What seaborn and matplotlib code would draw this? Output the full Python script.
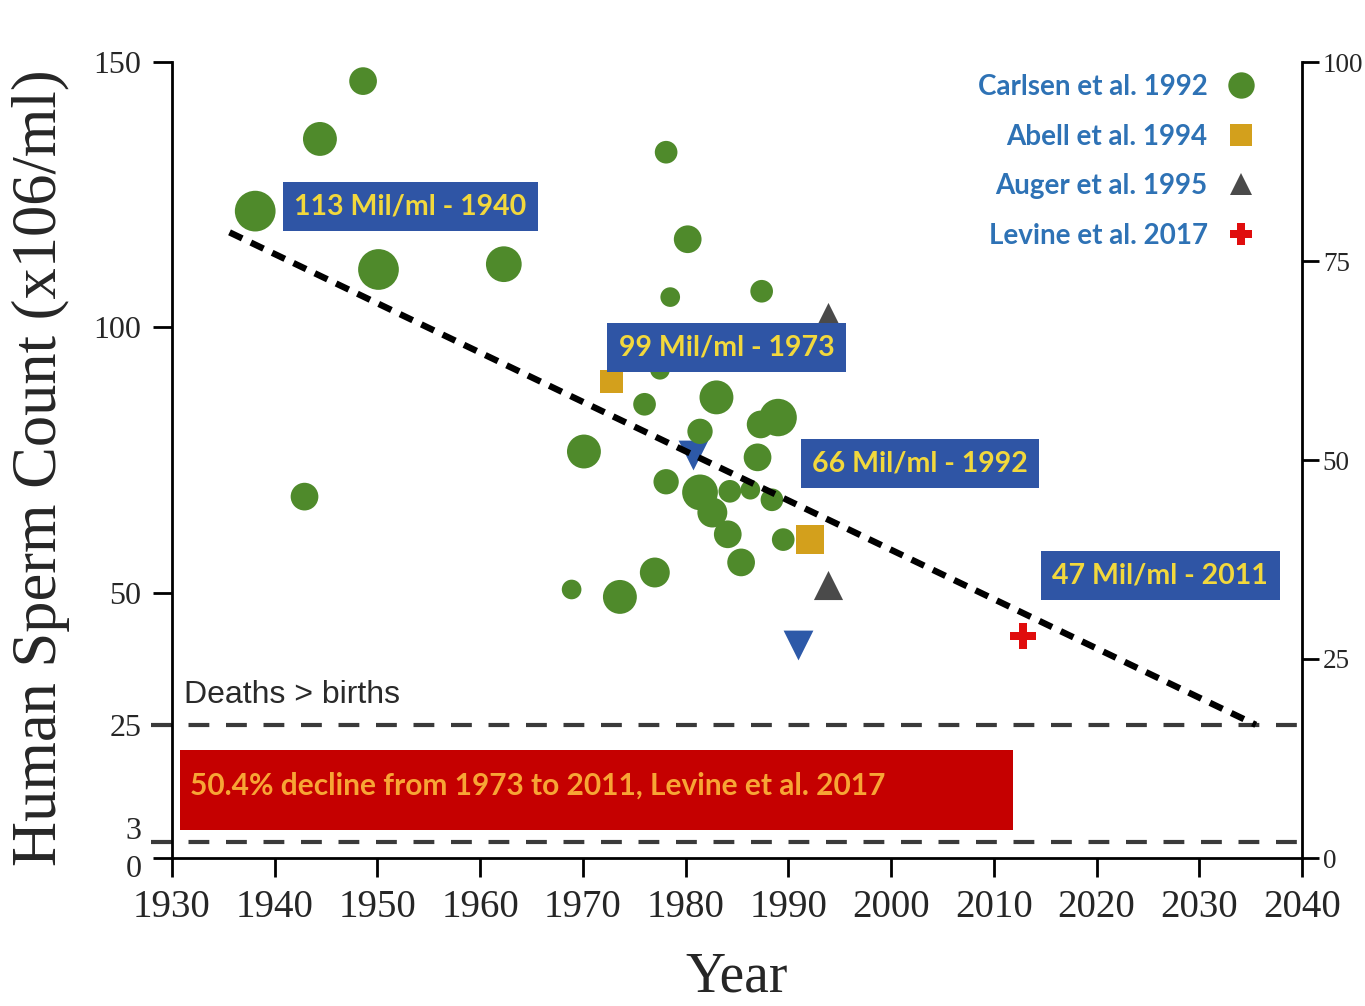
import numpy as np
import pandas as pd
import matplotlib
matplotlib.use("Agg")
import matplotlib.pyplot as plt
import seaborn as sns
from matplotlib.lines import Line2D
from matplotlib.patches import Rectangle
from matplotlib.transforms import ScaledTranslation

# ---------------- data ----------------
carlsen_year = [1938.1, 1944.4, 1948.6, 1950.1, 1942.9, 1962.3, 1978.1, 1980.2,
                1978.5, 1987.4, 1977.5, 1976.0, 1983.0, 1970.1, 1981.4, 1987.3,
                1989.0, 1987.0, 1978.1, 1981.4, 1982.6, 1984.1, 1984.3, 1986.3,
                1988.4, 1989.5, 1985.4, 1977.0, 1973.6, 1968.9]
carlsen_count = [121.9, 135.5, 146.4, 110.9, 68.1, 111.9, 133.0, 116.6,
                 105.7, 106.8, 92.0, 85.5, 86.8, 76.6, 80.4, 81.7,
                 83.0, 75.5, 70.9, 68.9, 65.1, 61.0, 69.1, 69.4,
                 67.5, 60.0, 55.7, 53.8, 49.2, 50.6]
carlsen_rel_n = [20, 16, 13, 20, 13, 17, 11, 13,
                 10, 11, 10, 11, 16, 16, 12, 13,
                 18, 13, 12, 17, 14, 13, 11, 10,
                 11, 11, 13, 14, 16, 10]
abell_year = [1972.8, 1992.1]
abell_count = [89.8, 60.0]
auger_year = [1993.9, 1993.9]
auger_count = [101.9, 51.5]
other_year = [1980.7, 1990.9]
other_count = [76.0, 40.2]
levine_year = [2012.8]
levine_count = [41.9]
trend_year = [1935.6, 2035.5]
trend_count = [117.9, 25.1]
threshold_levels = [25, 3]

left_ticks = [0, 3, 25, 50, 100, 150]
right_ticks = [0, 25, 50, 75, 100]
x_ticks = list(range(1930, 2041, 10))

callout_labels = ["113 Mil/ml - 1940", "99 Mil/ml - 1973",
                  "66 Mil/ml - 1992", "47 Mil/ml - 2011"]
callout_x = [1953.2, 1984.0, 2002.8, 2026.2]
callout_y = [122.8, 96.2, 74.3, 53.2]

legend_labels = ["Carlsen et al. 1992", "Abell et al. 1994",
                 "Auger et al. 1995", "Levine et al. 2017"]

decline_text = "50.4% decline from 1973 to 2011, Levine et al. 2017"
deaths_text = "Deaths > births"

# ---------------- style ----------------
sns.set_theme(style="white")
plt.rcParams["font.family"] = ["Liberation Serif", "DejaVu Serif"]

GREEN = "#4F8A2B"
GOLD = "#D3A01C"
GRAY = "#4A4A4A"
RED = "#E00D0D"
BLUE_TRI = "#2D59A8"
BOX_BLUE = "#2F55A5"
BOX_TEXT = "#F2D83C"
LEG_TEXT = "#2E72B5"
SANS = ["Lato", "DejaVu Sans"]

fig = plt.figure(figsize=(13.65, 10.06), dpi=100)
ax = fig.add_axes([172 / 1365, 148 / 1006, 1130 / 1365, 796 / 1006])

# ---------------- marks ----------------
df_c = pd.DataFrame({"year": carlsen_year, "count": carlsen_count, "n": carlsen_rel_n})
sns.scatterplot(data=df_c, x="year", y="count", size="n", sizes=(200, 860),
                size_norm=(10, 20), color=GREEN, linewidth=0, legend=False,
                ax=ax, zorder=3)

sns.scatterplot(x=abell_year, y=abell_count, marker="s", s=[270, 420],
                color=GOLD, linewidth=0, ax=ax, zorder=3)
sns.scatterplot(x=auger_year, y=auger_count, marker="^", s=440,
                color=GRAY, linewidth=0, ax=ax, zorder=3)
sns.scatterplot(x=other_year, y=other_count, marker="v", s=460,
                color=BLUE_TRI, linewidth=0, ax=ax, zorder=2.5)
sns.scatterplot(x=levine_year, y=levine_count, marker="P", s=340,
                color=RED, linewidth=0, ax=ax, zorder=3)

sns.lineplot(x=trend_year, y=trend_count, ax=ax, color="black", lw=4.6,
             zorder=4)
ax.lines[-1].set_dashes((2.2, 1.5))

for lvl in threshold_levels:
    ax.hlines(lvl, x_ticks[0] - 2, x_ticks[-1], colors="#3A3A3A", lw=3,
              linestyles=(0, (5, 4)), clip_on=False, zorder=2)

# red decline box
ax.add_patch(Rectangle((1930.8, 5.3), 2011.9 - 1930.8, 20.4 - 5.3,
                       facecolor="#C50000", edgecolor="none", zorder=2))
ax.text(1931.8, 13.6, decline_text, family=SANS, fontsize=21.5, color="#F7A535",
        fontweight="bold", va="center", ha="left", zorder=5)

ax.text(1931.2, 30.8, deaths_text, family=["Liberation Sans", "DejaVu Sans"],
        fontsize=23, color="#2A2A2A", va="center", ha="left")

for lab, cx, cy in zip(callout_labels, callout_x, callout_y):
    ax.text(cx, cy, lab, family=SANS, fontsize=20.5, color=BOX_TEXT,
            fontweight="bold", ha="center", va="center", zorder=6,
            bbox=dict(boxstyle="square,pad=0.4", facecolor=BOX_BLUE,
                      edgecolor="none"))

# ---------------- axes ----------------
ax.set_xlim(x_ticks[0], x_ticks[-1])
ax.set_ylim(0, 150)
ax.set_xticks(x_ticks)
ax.set_yticks(left_ticks)
ax.tick_params(axis="both", direction="out", length=14, width=2, color="black",
               left=True, bottom=True)
ax.tick_params(axis="x", labelsize=28, pad=8)
ax.tick_params(axis="y", labelsize=23, pad=8)
for s in ["top", "right"]:
    ax.spines[s].set_visible(False)
for s in ["left", "bottom"]:
    ax.spines[s].set_color("black")
    ax.spines[s].set_linewidth(2)

ax.set_xlabel("Year", fontsize=40)
ax.xaxis.set_label_coords(0.5, -0.117)
ax.set_ylabel("Human Sperm Count (x106/ml)", fontsize=45)
ax.yaxis.set_label_coords(-0.09, 0.49)

# nudge the crowded "3" and "0" labels apart, as in the reference
offsets = {0: -6 / 72, 3: 10 / 72}
for tick, loc in zip(ax.yaxis.get_major_ticks(), left_ticks):
    if loc in offsets:
        tick.label1.set_transform(tick.label1.get_transform() +
                                  ScaledTranslation(0, offsets[loc], fig.dpi_scale_trans))

ax2 = ax.twinx()
ax2.set_ylim(0, 100)
ax2.set_yticks(right_ticks)
ax2.tick_params(axis="y", direction="out", length=12, width=2, labelsize=19.5,
                pad=3, right=True, color="black")
for s in ["top", "left", "bottom"]:
    ax2.spines[s].set_visible(False)
ax2.spines["right"].set_color("black")
ax2.spines["right"].set_linewidth(2)
ax2.grid(False)

# legend
handles = [
    Line2D([], [], marker="o", ls="", color=GREEN, markersize=19, markeredgewidth=0),
    Line2D([], [], marker="s", ls="", color=GOLD, markersize=16, markeredgewidth=0),
    Line2D([], [], marker="^", ls="", color=GRAY, markersize=16, markeredgewidth=0),
    Line2D([], [], marker="P", ls="", color=RED, markersize=16, markeredgewidth=0),
]
leg = ax2.legend(handles, legend_labels, loc="upper right", markerfirst=False,
                 frameon=False, bbox_to_anchor=(1255 / 1365, 1 - 74 / 1006),
                 bbox_transform=fig.transFigure, borderaxespad=0, borderpad=0,
                 handletextpad=0.7, labelspacing=0.85, handlelength=1.0,
                 prop={"family": SANS, "size": 20, "weight": "bold"})
for t in leg.get_texts():
    t.set_color(LEG_TEXT)

fig.savefig("out.png", dpi=100)
